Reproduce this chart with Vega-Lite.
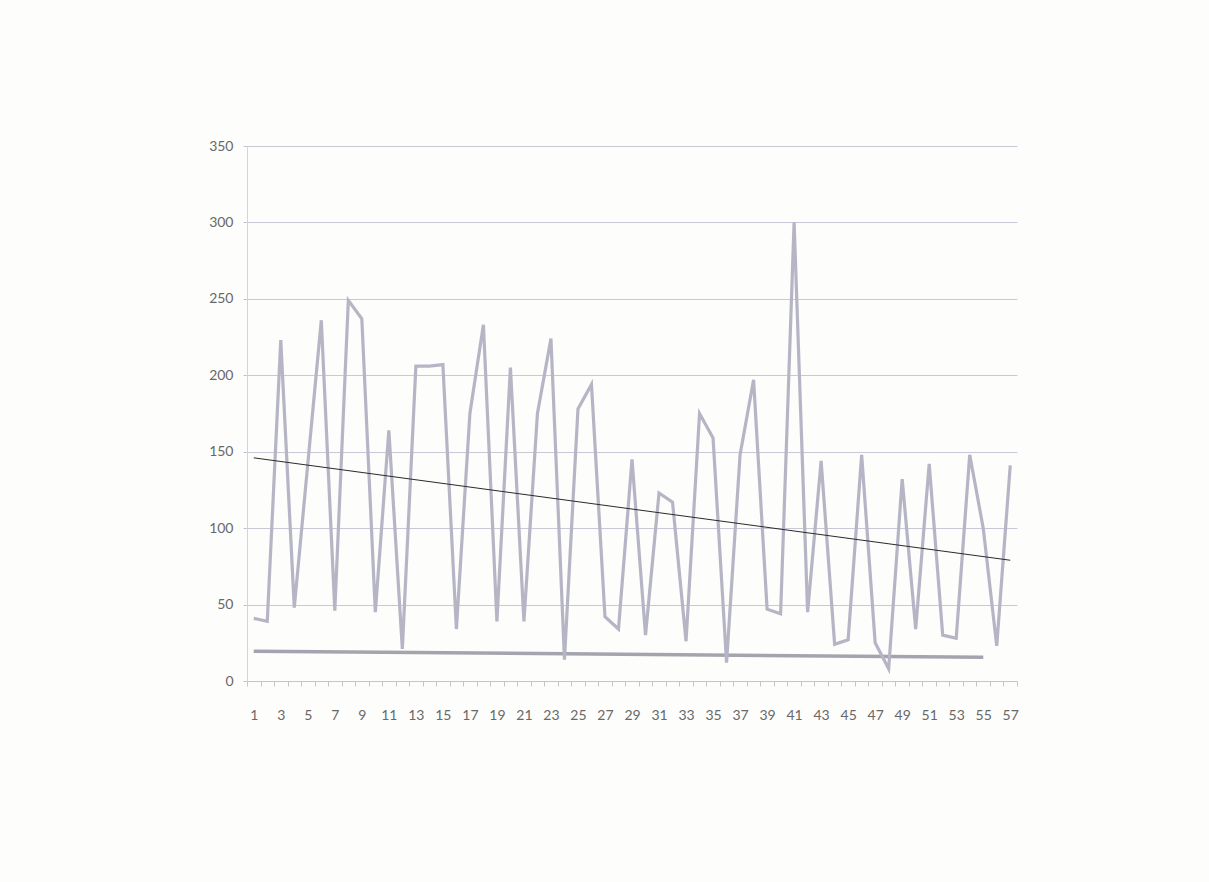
{
  "$schema": "https://vega.github.io/schema/vega-lite/v6.json",
  "width": 770,
  "height": 535,
  "autosize": {"type": "none"},
  "padding": {"left": 247, "top": 146, "right": 192, "bottom": 201},
  "background": "#fdfdfb",
  "config": {
    "view": {"stroke": null},
    "font": "Lato",
    "axis": {
      "labelFont": "Lato",
      "labelFontSize": 14,
      "labelColor": "#686868",
      "domainColor": "#c4c4cc",
      "tickColor": "#c4c4cc",
      "gridColor": "#c8c8d6",
      "title": null
    }
  },
  "data": {
    "values": [
      {"x": 1, "v": 41, "s": "data"}, {"x": 2, "v": 39, "s": "data"},
      {"x": 3, "v": 223, "s": "data"}, {"x": 4, "v": 48, "s": "data"},
      {"x": 5, "v": 142, "s": "data"}, {"x": 6, "v": 236, "s": "data"},
      {"x": 7, "v": 46, "s": "data"}, {"x": 8, "v": 249, "s": "data"},
      {"x": 9, "v": 237, "s": "data"}, {"x": 10, "v": 45, "s": "data"},
      {"x": 11, "v": 164, "s": "data"}, {"x": 12, "v": 21, "s": "data"},
      {"x": 13, "v": 206, "s": "data"}, {"x": 14, "v": 206, "s": "data"},
      {"x": 15, "v": 207, "s": "data"}, {"x": 16, "v": 34, "s": "data"},
      {"x": 17, "v": 175, "s": "data"}, {"x": 18, "v": 233, "s": "data"},
      {"x": 19, "v": 39, "s": "data"}, {"x": 20, "v": 205, "s": "data"},
      {"x": 21, "v": 39, "s": "data"}, {"x": 22, "v": 175, "s": "data"},
      {"x": 23, "v": 224, "s": "data"}, {"x": 24, "v": 14, "s": "data"},
      {"x": 25, "v": 178, "s": "data"}, {"x": 26, "v": 194, "s": "data"},
      {"x": 27, "v": 42, "s": "data"}, {"x": 28, "v": 34, "s": "data"},
      {"x": 29, "v": 145, "s": "data"}, {"x": 30, "v": 30, "s": "data"},
      {"x": 31, "v": 123, "s": "data"}, {"x": 32, "v": 117, "s": "data"},
      {"x": 33, "v": 26, "s": "data"}, {"x": 34, "v": 175, "s": "data"},
      {"x": 35, "v": 159, "s": "data"}, {"x": 36, "v": 12, "s": "data"},
      {"x": 37, "v": 148, "s": "data"}, {"x": 38, "v": 197, "s": "data"},
      {"x": 39, "v": 47, "s": "data"}, {"x": 40, "v": 44, "s": "data"},
      {"x": 41, "v": 300, "s": "data"}, {"x": 42, "v": 45, "s": "data"},
      {"x": 43, "v": 144, "s": "data"}, {"x": 44, "v": 24, "s": "data"},
      {"x": 45, "v": 27, "s": "data"}, {"x": 46, "v": 148, "s": "data"},
      {"x": 47, "v": 25, "s": "data"}, {"x": 48, "v": 8, "s": "data"},
      {"x": 49, "v": 132, "s": "data"}, {"x": 50, "v": 34, "s": "data"},
      {"x": 51, "v": 142, "s": "data"}, {"x": 52, "v": 30, "s": "data"},
      {"x": 53, "v": 28, "s": "data"}, {"x": 54, "v": 148, "s": "data"},
      {"x": 55, "v": 100, "s": "data"}, {"x": 56, "v": 23, "s": "data"},
      {"x": 57, "v": 141, "s": "data"},
      {"x": 1, "v": 19.5, "s": "base"}, {"x": 55, "v": 15.5, "s": "base"},
      {"x": 1, "v": 146, "s": "trend"}, {"x": 57, "v": 79, "s": "trend"}
    ]
  },
  "encoding": {
    "x": {
      "field": "x",
      "type": "ordinal",
      "bandPosition": 0.5,
      "scale": {"type": "band", "paddingInner": 0, "paddingOuter": 0},
      "axis": {
        "labelAngle": 0,
        "tickBand": "extent",
        "tickSize": 5,
        "labelPadding": 22,
        "labelOverlap": false,
        "labelExpr": "datum.value % 2 == 1 ? datum.label : ''"
      }
    },
    "y": {
      "field": "v",
      "type": "quantitative",
      "scale": {"domain": [0, 350], "nice": false},
      "axis": {"values": [0, 50, 100, 150, 200, 250, 300, 350], "tickSize": 4, "labelPadding": 10, "domainColor": "#d4d4dc"}
    }
  },
  "layer": [
    {
      "transform": [{"filter": "datum.s == 'base'"}],
      "mark": {"type": "line", "color": "#a4a4ae", "strokeWidth": 3.5}
    },
    {
      "transform": [{"filter": "datum.s == 'data'"}],
      "mark": {"type": "line", "color": "#b5b5c6", "strokeWidth": 3.2}
    },
    {
      "transform": [{"filter": "datum.s == 'trend'"}],
      "mark": {"type": "line", "color": "#2a2a2a", "strokeWidth": 1}
    }
  ]
}
